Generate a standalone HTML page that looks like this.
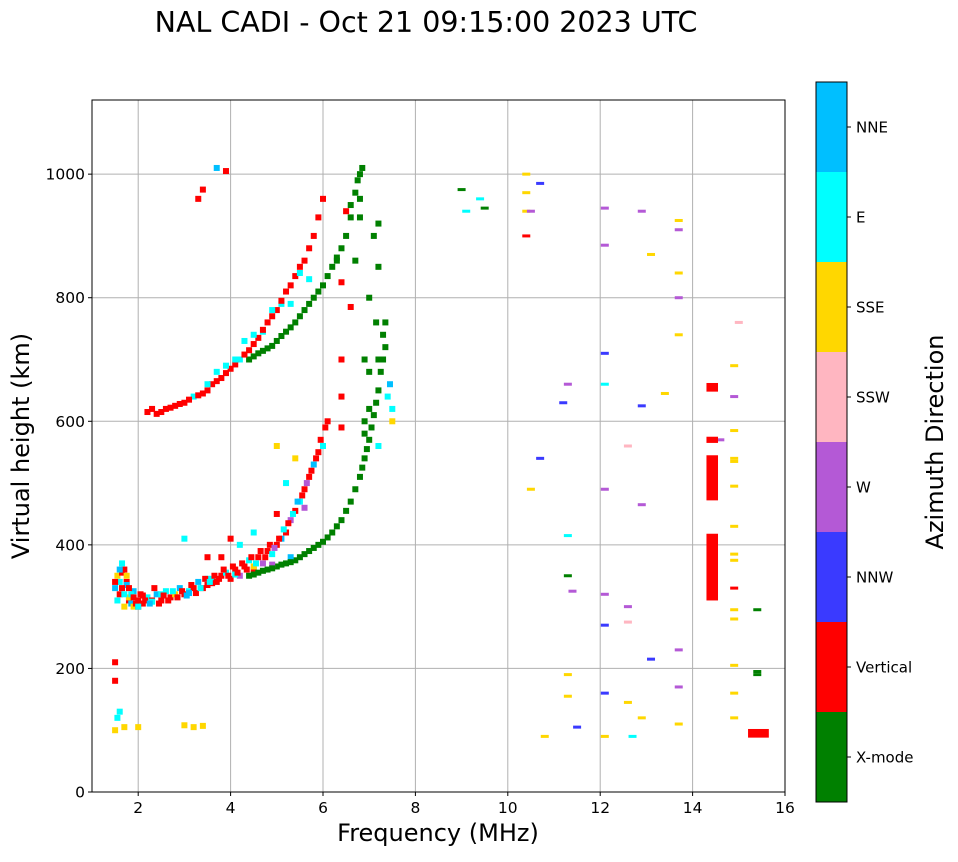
<!DOCTYPE html>
<html><head><meta charset="utf-8"><style>
body{margin:0;background:#fff;}
svg text{font-family:"DejaVu Sans","Liberation Sans",sans-serif;}
</style></head><body>
<svg id="c" width="958" height="857" xmlns="http://www.w3.org/2000/svg">
<rect width="958" height="857" fill="#fff"/>
<text x="426" y="32" text-anchor="middle" font-size="28.5">NAL CADI - Oct 21 09:15:00 2023 UTC</text>
<g id="grid"></g>
<g id="marks"></g>
<rect x="92" y="100" width="693" height="692" fill="none" stroke="#000" stroke-width="1"/>
<g id="axes"></g>
<text x="438" y="841" text-anchor="middle" font-size="24">Frequency (MHz)</text>
<text transform="translate(29,446) rotate(-90)" text-anchor="middle" font-size="24">Virtual height (km)</text>
<g id="cbar"></g>
<text transform="translate(943,442) rotate(-90)" text-anchor="middle" font-size="24">Azimuth Direction</text>
</svg>
<script>
const dirNames=["X-mode","Vertical","NNW","W","SSW","SSE","E","NNE"];
const dirColors=["#008000","#ff0000","#3a3aff","#b459d6","#ffb6c1","#ffd700","#00ffff","#00bfff"];
const xTicks=[2,4,6,8,10,12,14,16];
const yTicks=[0,200,400,600,800,1000];
const freqs=[1.5,1.55,1.6,1.65,1.7,1.75,1.8,1.85,1.9,2.0,2.1,2.2,2.3,2.4,2.5,2.6,2.7,2.8,2.9,3.0,3.1,3.2,3.3,3.4,3.5,3.6,3.7,3.8,3.9,4.0,4.1,4.2,4.3,4.4,4.5,4.6,4.7,4.8,4.9,5.0,5.1,5.2,5.3,5.4,5.5,5.6,5.7,5.8,5.9,6.0,6.1,
4.4,4.6,4.8,5.0,5.2,5.4,5.6,5.8,6.0,6.2,6.4,6.6,6.8,6.9,7.0,7.1,7.2,7.3,7.3,
7.4,7.5,7.45,7.5,
2.2,2.4,2.6,2.8,3.0,3.2,3.4,3.6,3.8,4.0,4.2,4.4,4.6,4.8,5.0,5.2,5.4,5.6,5.8,6.0,4.3,4.7,5.1,5.5,
4.4,4.6,4.8,5.0,5.2,5.4,5.6,5.8,6.0,6.2,6.4,6.6,6.7,6.8,6.3,
1.5,1.55,1.5,1.5,1.6,1.7,2.0,3.0,3.2,3.4,3.9,3.7,3.4,3.3,
6.4,6.4,6.4,6.6,6.4,6.5,
1.6,1.7,1.8,1.9,2.0,2.5,3.5,4.5,1.65,1.75,2.1,2.3,3.1,3.6,4.1,4.9,5.3,5.6,6.9,7.0,7.2,6.7,6.8,
1.5,1.55,1.6,1.65,1.7,1.75,1.8,1.85,1.9,1.95,2.0,2.05,2.15,2.25,2.35,2.45,2.55,2.65,2.75,2.85,2.95,3.05,3.15,3.25,3.35,3.45,3.55,3.65,3.75,3.85,3.95,4.05,4.15,4.25,4.35,4.45,4.55,4.65,4.75,4.85,4.95,5.05,5.15,5.25,5.35,5.45,5.55,5.65,5.75,5.85,5.95,6.05,3.0,3.5,4.0,4.5,5.0,5.2,5.4,5.0,4.2,3.8,
4.5,4.7,4.9,5.1,5.3,5.5,5.7,5.9,6.1,6.3,6.5,6.7,6.85,6.95,7.05,7.15,7.25,7.35,7.35,7.0,6.9,7.2,
2.3,2.5,2.7,2.9,3.1,3.3,3.5,3.7,3.9,4.1,4.3,4.5,4.7,4.9,5.1,5.3,5.5,5.7,5.9,3.9,4.1,4.5,4.9,5.3,5.7,3.5,3.7,
4.5,4.7,4.9,5.1,5.3,5.5,5.7,5.9,6.1,6.3,6.5,6.6,6.75,6.85,6.8,
7.1,7.2,7.0,7.15,7.2,6.9];
const heights=[330,350,320,370,300,340,310,305,300,310,305,315,310,320,310,325,315,320,330,320,325,330,340,330,335,345,340,350,355,345,360,350,365,375,360,380,370,390,385,400,410,420,440,455,470,490,510,530,550,560,600,
350,355,360,365,370,375,385,395,405,420,440,470,510,540,570,610,650,700,740,
640,620,660,600,
615,612,620,625,630,640,645,660,670,685,700,715,735,760,780,810,835,860,900,960,730,745,790,840,
700,710,718,730,745,760,780,800,820,850,880,930,970,1000,860,
100,120,180,210,130,105,105,108,105,107,1005,1010,975,960,
700,640,590,785,825,940,
340,360,315,325,300,320,345,365,355,335,318,308,322,338,352,368,380,460,600,680,560,860,930,
340,310,360,330,320,350,330,320,315,305,300,320,310,305,330,305,318,310,325,315,325,318,335,322,330,345,340,350,345,360,350,365,355,370,360,380,370,390,380,400,395,410,425,435,450,470,480,500,520,540,570,590,410,380,410,420,450,500,540,560,400,380,
352,358,362,368,372,380,390,400,412,430,455,490,525,555,590,630,680,720,760,620,580,700,
620,615,622,628,635,642,650,665,678,692,708,725,748,770,795,820,850,880,930,690,700,740,780,790,830,660,680,
705,714,722,738,752,770,790,810,835,865,900,950,990,1010,960,
900,850,800,760,920,700];
const dirs=[7,5,1,6,5,1,1,7,5,1,1,6,1,7,1,6,1,5,7,1,6,1,7,1,1,6,1,1,6,1,1,3,1,6,1,1,3,1,6,1,7,1,3,1,6,1,1,7,1,6,1,
0,0,0,0,0,0,0,0,0,0,0,0,0,0,0,0,0,0,0,
6,6,7,5,
1,1,1,1,1,6,1,1,1,1,6,1,1,1,1,1,1,1,1,1,6,6,6,6,
0,0,0,0,0,0,0,0,0,0,0,0,0,0,0,
5,6,1,1,6,5,5,5,5,5,1,7,1,1,
1,1,1,1,1,1,
6,1,5,7,1,6,6,5,1,7,1,6,7,1,6,3,7,3,0,0,6,0,0,
1,6,7,1,6,5,1,6,1,1,6,1,1,7,1,1,1,1,6,1,1,7,1,1,6,1,6,1,1,1,1,1,1,1,1,1,6,1,1,1,3,1,6,1,6,7,1,3,1,1,1,1,6,1,1,6,1,6,5,5,6,1,
0,0,0,0,0,0,0,0,0,0,0,0,0,0,0,0,0,0,0,0,0,0,
1,1,1,1,1,1,1,1,1,1,1,1,1,1,1,1,1,1,1,6,6,6,6,6,6,6,6,
0,0,0,0,0,0,0,0,0,0,0,0,0,0,0,
0,0,0,0,0,0];
const rFreqs=[9.0,9.1,9.4,9.5,10.4,10.4,10.4,10.4,10.5,10.7,10.7,10.5,10.8,11.3,11.4,11.5,11.3,11.3,11.3,11.2,11.3,12.1,12.1,12.1,12.1,12.1,12.1,12.1,12.1,12.1,12.6,12.6,12.6,12.6,12.7,12.9,12.9,12.9,12.9,13.1,13.1,13.4,13.7,13.7,13.7,13.7,13.7,13.7,13.7,13.7,14.9,14.9,14.9,14.9,14.9,14.9,14.9,14.9,14.9,14.9,14.9,14.9,14.9,14.9,14.9,15.0,14.6,15.4,15.4,15.4];
const rHeights=[975,940,960,945,1000,970,940,900,940,985,540,490,90,350,325,105,190,155,415,630,660,945,885,710,660,490,320,270,160,90,560,300,275,145,90,940,465,625,120,870,215,645,925,910,840,800,740,230,170,110,690,640,585,540,535,495,430,385,375,330,295,280,205,160,120,760,570,295,190,195];
const rDirs=[0,6,6,0,5,5,5,1,3,2,2,5,5,0,3,2,5,5,6,2,3,3,3,2,6,3,3,2,2,5,4,3,4,5,6,3,3,2,5,5,2,5,5,3,5,3,5,3,3,5,5,3,5,5,5,5,5,5,5,1,5,5,5,5,5,4,3,0,0,0];
const barFLo=[14.3,14.3,14.3,14.3,15.2];
const barFHi=[14.55,14.55,14.55,14.55,15.65];
const barLo=[648,565,472,310,88];
const barHi=[662,575,545,418,102];
const barDirs=[1,1,1,1,1];
const NS="http://www.w3.org/2000/svg";
const X0=92,X1=785,Y0=792,Y1=100,FMIN=1,FMAX=16,HMAX=1120;
const xs=f=>X0+(f-FMIN)/(FMAX-FMIN)*(X1-X0);
const ys=h=>Y0-h/HMAX*(Y0-Y1);
function mk(t,a,p){const e=document.createElementNS(NS,t);for(const k in a)e.setAttribute(k,a[k]);p.appendChild(e);return e;}
const grid=document.getElementById('grid'),marks=document.getElementById('marks'),axes=document.getElementById('axes'),cb=document.getElementById('cbar');
xTicks.forEach(t=>{const x=xs(t);
 if(t<16){const l=mk('line',{x1:x,x2:x,y1:Y1,y2:Y0,stroke:'#b0b0b0','stroke-width':1},grid);
 
 }
 mk('line',{x1:x,x2:x,y1:Y0,y2:Y0+4,stroke:'#000'},axes);
 const tx=mk('text',{x:x,y:Y0+21,'text-anchor':'middle','font-size':15.5},axes);tx.textContent=t;
 
 });
yTicks.forEach(t=>{const y=ys(t);
 if(t>0){const l=mk('line',{x1:X0,x2:X1,y1:y,y2:y,stroke:'#b0b0b0','stroke-width':1},grid);
 
 }
 mk('line',{x1:X0-4,x2:X0,y1:y,y2:y,stroke:'#000'},axes);
 const tx=mk('text',{x:X0-7,y:y+5.5,'text-anchor':'end','font-size':15.5},axes);tx.textContent=t;
 
 });
freqs.forEach((f,i)=>{const r=mk('rect',{x:xs(f)-3,y:ys(heights[i])-3,width:6,height:6,fill:dirColors[dirs[i]]},marks);
 
 });
rFreqs.forEach((f,i)=>{const r=mk('rect',{x:xs(f)-4,y:ys(rHeights[i])-1.5,width:8,height:3,fill:dirColors[rDirs[i]]},marks);
 
 });
barFLo.forEach((f,i)=>{const r=mk('rect',{x:xs(f),y:ys(barHi[i]),width:xs(barFHi[i])-xs(f),height:ys(barLo[i])-ys(barHi[i]),fill:dirColors[barDirs[i]]},marks);
 
 });
const CX=816,CW=31,CT=82,CB=802,seg=(CB-CT)/dirNames.length;
dirNames.forEach((n,i)=>{const y=CB-(i+1)*seg;
 const r=mk('rect',{x:CX,y:y,width:CW,height:seg,fill:dirColors[i]},cb);
 
 
 mk('line',{x1:CX+CW,x2:CX+CW+4,y1:y+seg/2,y2:y+seg/2,stroke:'#000'},cb);
 const tx=mk('text',{x:CX+CW+9,y:y+seg/2+5.5,'font-size':15},cb);tx.textContent=n;
 
 });
mk('rect',{x:CX,y:CT,width:CW,height:CB-CT,fill:'none',stroke:'#000'},cb);
</script>
</body></html>
